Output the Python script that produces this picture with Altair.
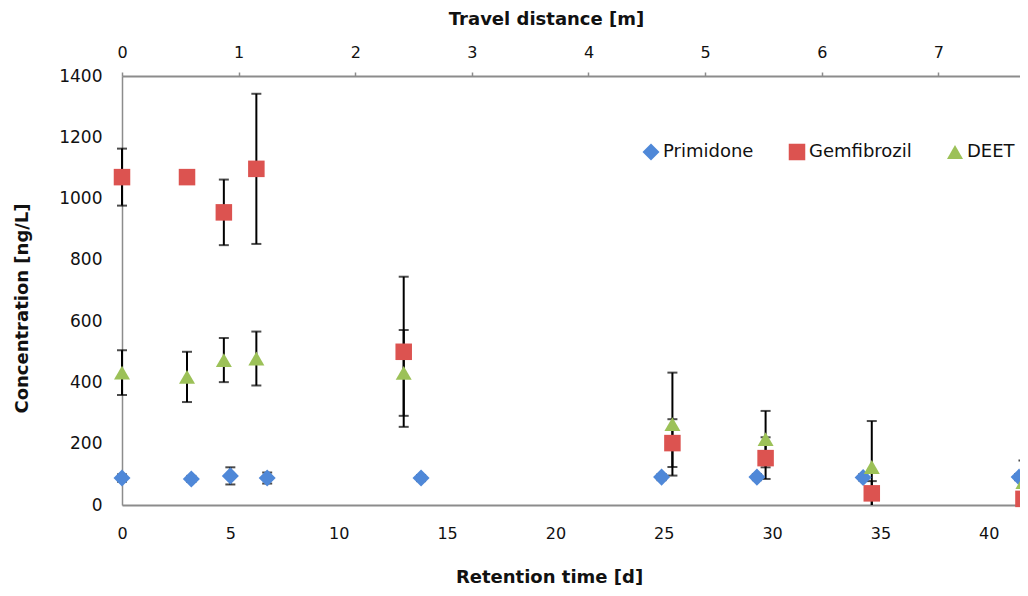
import altair as alt
import pandas as pd

series = ["Primidone", "Gemfibrozil", "DEET"]
colors = ["#4F88D8", "#DC5350", "#9CC158"]
shapes = ["diamond", "square", "triangle-up"]
sizes = [290, 256, 324]

# Retention time [d], concentration [ng/L], error (±) [ng/L]
prim_t = [0, 3.2, 5.0, 6.7, 13.8, 24.9, 29.3, 34.2, 41.4]
prim_c = [88, 85, 95, 88, 88, 91, 91, 90, 91]
prim_e = [12, 10, 28, 18, 10, 10, 10, 10, 10]

gem_t = [0, 3.0, 4.7, 6.2, 13.0, 25.4, 29.7, 34.6, 41.6]
gem_c = [1070, 1070, 955, 1097, 500, 202, 153, 38, 20]
gem_e = [93, 0, 107, 245, 245, 78, 68, 40, 20]

deet_t = [0, 3.0, 4.7, 6.2, 13.0, 25.4, 29.7, 34.6, 41.6]
deet_c = [432, 418, 473, 478, 431, 264, 215, 124, 75]
deet_e = [73, 82, 72, 88, 140, 168, 92, 150, 70]

x_ticks = [0, 5, 10, 15, 20, 25, 30, 35, 40]
y_ticks = [0, 200, 400, 600, 800, 1000, 1200, 1400]
dist_ticks = [0, 1, 2, 3, 4, 5, 6, 7]

rows = []
for name, ts, cs, es in [("Primidone", prim_t, prim_c, prim_e),
                         ("Gemfibrozil", gem_t, gem_c, gem_e),
                         ("DEET", deet_t, deet_c, deet_e)]:
    for t, c, e in zip(ts, cs, es):
        rows.append({"series": name, "t": t, "c": c, "e": e,
                     "lo": max(0, c - e), "hi": c + e})
df = pd.DataFrame(rows)

FONT = "DejaVu Sans"
TXT = "#111111"
AX = "#8c8c8c"

xscale = alt.Scale(domain=[0, 41.44], nice=False, zero=False)
yscale = alt.Scale(domain=[0, 1400], nice=False)

x_axis = alt.Axis(values=x_ticks, title="Retention time [d]", ticks=False, tickSize=0,
                  labelFontSize=16, labelPadding=20, labelColor=TXT, labelFont=FONT,
                  domainColor=AX, domainWidth=2, grid=False, labelFlush=False,
                  titleX=427, titleY=72, titleBaseline="middle", titleAlign="center",
                  titleFontSize=18, titleFontWeight="bold", titleColor=TXT, titleFont=FONT)
y_axis = alt.Axis(values=y_ticks, format="d", title="Concentration [ng/L]", ticks=False,
                  tickSize=0, labelFontSize=17, labelPadding=20, labelColor=TXT,
                  labelFont=FONT, domainColor=AX, domainWidth=1.5, grid=False,
                  titleX=-100, titleY=232, titleBaseline="middle", titleAlign="center",
                  titleAngle=-90,
                  titleFontSize=18, titleFontWeight="bold", titleColor=TXT, titleFont=FONT)

base = alt.Chart(df)

rules = base.mark_rule(color="black", strokeWidth=2).encode(
    x=alt.X("t:Q", scale=xscale, axis=x_axis),
    y=alt.Y("lo:Q", scale=yscale, axis=y_axis),
    y2="hi:Q",
)
caps_lo = base.transform_filter("datum.c - datum.e >= 0").mark_tick(
    color="black", thickness=2, size=10, orient="horizontal").encode(
    x=alt.X("t:Q", scale=xscale), y=alt.Y("lo:Q", scale=yscale))
caps_hi = base.mark_tick(color="black", thickness=2, size=10, orient="horizontal").encode(
    x=alt.X("t:Q", scale=xscale), y=alt.Y("hi:Q", scale=yscale))

points = base.mark_point(filled=True, opacity=1).encode(
    x=alt.X("t:Q", scale=xscale),
    y=alt.Y("c:Q", scale=yscale),
    color=alt.Color("series:N", scale=alt.Scale(domain=series, range=colors),
                    legend=alt.Legend(title=None, orient="none", direction="horizontal",
                                      legendX=520, legendY=67, labelFontSize=18,
                                      labelFont=FONT, labelColor=TXT, symbolSize=150,
                                      columnPadding=34, labelOffset=3, padding=0,
                                      symbolStrokeWidth=0)),
    shape=alt.Shape("series:N", scale=alt.Scale(domain=series, range=shapes)),
    size=alt.Size("series:N", scale=alt.Scale(domain=series, range=sizes), legend=None),
)

inner = alt.layer(rules, caps_lo, caps_hi, points)

top = alt.Chart(pd.DataFrame({"d": dist_ticks})).mark_point(opacity=0).encode(
    x=alt.X("d:Q", scale=alt.Scale(domain=[0, 7.70], nice=False, zero=False),
            axis=alt.Axis(orient="top", values=dist_ticks, title="Travel distance [m]",
                          ticks=True, tickSize=4, tickColor=AX, tickWidth=1.5,
                          labelFontSize=16, labelPadding=12, labelColor=TXT, labelFont=FONT,
                          domainColor=AX, domainWidth=2, grid=False, labelFlush=False,
                          titleX=424, titleY=-57, titleBaseline="middle", titleAlign="center",
                          titleFontSize=18, titleFontWeight="bold", titleColor=TXT,
                          titleFont=FONT))
)

chart = alt.layer(inner, top).resolve_scale(x="independent").properties(
    width=898, height=429,
    autosize=alt.AutoSizeParams(type="none"),
    padding={"left": 114, "top": 68, "right": 0, "bottom": 81},
).configure_view(stroke=None).configure(font=FONT)

chart.save("out.html", embed_options={"renderer": "svg", "actions": False})
